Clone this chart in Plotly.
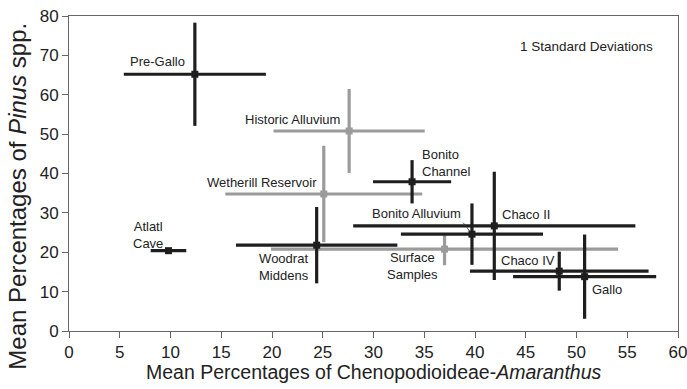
import plotly.graph_objects as go

# ---- data ----
names = ["Pre-Gallo", "Historic Alluvium", "Wetherill Reservoir", "Bonito Channel",
         "Atlatl Cave", "Woodrat Middens", "Surface Samples", "Bonito Alluvium",
         "Chaco II", "Chaco IV", "Gallo"]
cheno_mean = [12.4, 27.6, 25.1, 33.8, 9.8, 24.4, 37.0, 39.7, 41.9, 48.3, 50.8]
cheno_sd = [7.0, 7.45, 9.7, 3.85, 1.75, 7.95, 17.1, 7.0, 13.9, 8.8, 7.05]
pinus_mean = [65.2, 50.8, 34.8, 37.9, 20.4, 21.8, 20.8, 24.6, 26.7, 15.2, 13.8]
pinus_sd = [13.1, 10.65, 12.25, 5.5, 0.5, 9.7, 4.1, 7.8, 13.75, 4.95, 10.7]
group = ["dark", "light", "light", "dark", "dark", "dark", "light", "dark",
         "dark", "dark", "dark"]

x_ticks = [0, 5, 10, 15, 20, 25, 30, 35, 40, 45, 50, 55, 60]
y_ticks = [0, 10, 20, 30, 40, 50, 60, 70, 80]

# label placement (style): (text, x, y, xanchor)
label_lines = [
    ("Pre-Gallo", 8.75, 68.4, "center"),
    ("Historic Alluvium", 22.05, 53.8, "center"),
    ("Wetherill Reservoir", 19.0, 37.7, "center"),
    ("Bonito<br>Channel", 34.7, 42.6, "left"),
    ("Atlatl<br>Cave", 7.8, 24.5, "center"),
    ("Woodrat<br>Middens", 21.2, 16.3, "center"),
    ("Surface<br>Samples", 33.85, 16.5, "center"),
    ("Bonito Alluvium", 34.2, 29.9, "center"),
    ("Chaco II", 45.0, 29.7, "center"),
    ("Chaco IV", 45.2, 17.85, "center"),
    ("Gallo", 53.0, 10.65, "center"),
]

colors = {"dark": "#1e1e1e", "light": "#9b9b9b"}
FONT = "Liberation Sans, Arial, sans-serif"
TXT = "#222222"

fig = go.Figure()
for g in ["light", "dark"]:
    idx = [i for i, gg in enumerate(group) if gg == g]
    fig.add_trace(go.Scatter(
        x=[cheno_mean[i] for i in idx],
        y=[pinus_mean[i] for i in idx],
        text=[names[i] for i in idx],
        mode="markers",
        marker=dict(symbol="square", size=7, color=colors[g]),
        error_x=dict(type="data", array=[cheno_sd[i] for i in idx],
                     color=colors[g], thickness=3.2, width=0),
        error_y=dict(type="data", array=[pinus_sd[i] for i in idx],
                     color=colors[g], thickness=3.2, width=0),
        showlegend=False,
        hoverinfo="text",
    ))

annotations = []
for txt, lx, ly, anc in label_lines:
    annotations.append(dict(x=lx, y=ly, xref="x", yref="y", text=txt,
                            showarrow=False, xanchor=anc, align=anc,
                            borderpad=0,
                            font=dict(size=13, color=TXT, family=FONT)))

# leader line for Bonito Alluvium
bi = names.index("Bonito Alluvium")
annotations.append(dict(x=cheno_mean[bi], y=pinus_mean[bi], xref="x", yref="y",
                        text="", showarrow=True, arrowhead=0, arrowwidth=0.8,
                        arrowcolor="#333", ax=-10, ay=-13, standoff=3))

annotations.append(dict(x=51.0, y=72.2, xref="x", yref="y", text="1 Standard Deviations",
                        showarrow=False, font=dict(size=13.5, color=TXT, family=FONT)))

# axis titles
annotations.append(dict(x=0.5, y=-0.129, xref="paper", yref="paper",
                        text="Mean Percentages of Chenopodioideae-<i>Amaranthus</i>",
                        showarrow=False, xanchor="center", yanchor="middle",
                        font=dict(size=19.5, color=TXT, family=FONT)))
annotations.append(dict(x=-0.0846, y=0.428, xref="paper", yref="paper",
                        text="Mean Percentages of <i>Pinus</i> spp.", textangle=-90,
                        showarrow=False, xanchor="center", yanchor="middle",
                        font=dict(size=24, color=TXT, family=FONT)))

fig.update_layout(
    width=687, height=389,
    margin=dict(l=69, r=9, t=16, b=58),
    paper_bgcolor="white", plot_bgcolor="white",
    font=dict(family=FONT, color=TXT),
    annotations=annotations,
)
fig.update_xaxes(range=[0, 60], tickvals=x_ticks, ticks="outside", ticklen=6,
                 tickcolor="#666", showline=True, linecolor="#666", linewidth=1,
                 mirror=True, showgrid=False, zeroline=False, automargin=False,
                 ticklabeloverflow="allow",
                 tickfont=dict(size=17, color=TXT))
fig.update_yaxes(range=[0, 80], tickvals=y_ticks, ticks="outside", ticklen=6,
                 tickcolor="#666", showline=True, linecolor="#666", linewidth=1,
                 mirror=True, showgrid=False, zeroline=False, automargin=False,
                 ticklabeloverflow="allow",
                 tickfont=dict(size=17, color=TXT))

fig.write_html("out.html")
